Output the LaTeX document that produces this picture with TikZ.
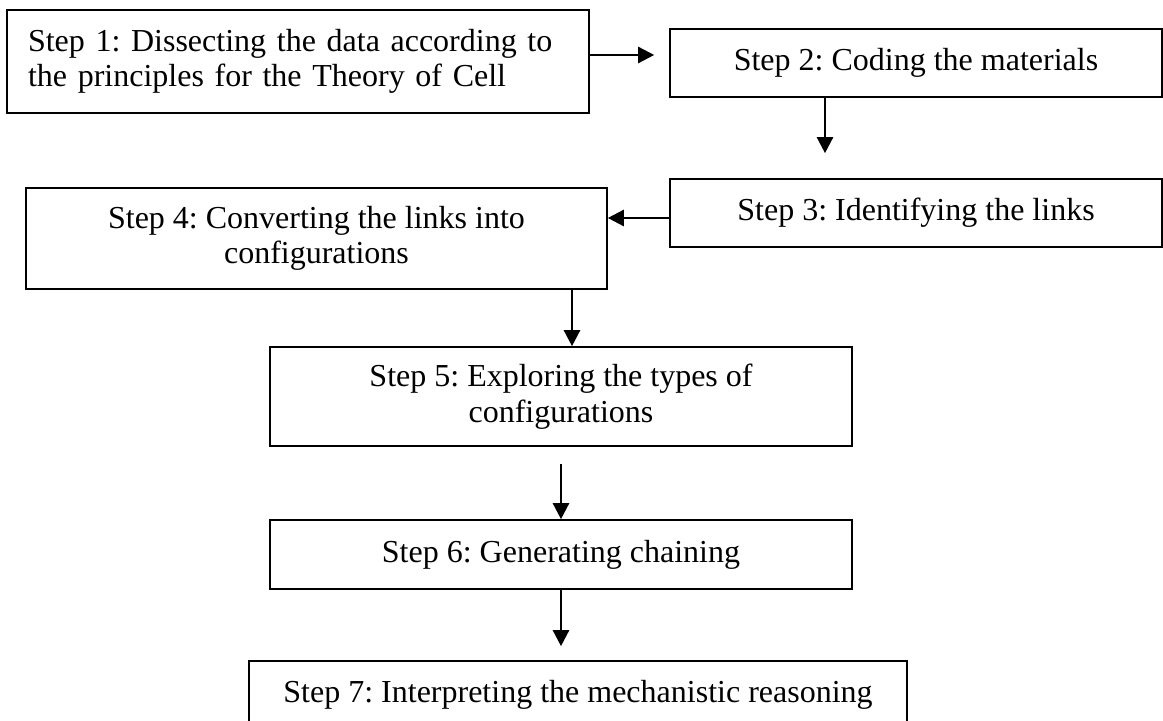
\documentclass[tikz,border=0pt]{standalone}
\usepackage{fontspec}
\setmainfont{Liberation Serif}
\usetikzlibrary{arrows.meta,calc}
\begin{document}
\frenchspacing
\begin{tikzpicture}[x=0.5pt,y=-0.5pt,
  box/.style={draw=black, line width=0.8pt, inner sep=0pt, align=center,
    font=\fontsize{16}{17.8}\selectfont},
  arr/.style={draw=black, line width=1.2pt, -{Triangle[length=8pt,width=8pt]}}]
\useasboundingbox (0,0) rectangle (1163,721);
\clip (0,0) rectangle (1163,721);
\fill[white] (0,0) rectangle (1163,721);

% process steps
\node[box, minimum width=291pt, minimum height=51.5pt, text width=270pt,
      inner xsep=10.5pt, align=left] (b1) at (298,61.5)
  {Step 1: Dissecting the data according to\\the principles for the Theory of Cell};
\node[box, minimum width=246pt, minimum height=34pt] (b2) at (916,63)
  {Step 2: Coding the materials};
\node[box, minimum width=246pt, minimum height=34pt] (b3) at (916,213)
  {Step 3: Identifying the links};
\node[box, minimum width=290.5pt, minimum height=50.5pt] (b4) at (316.5,238.5)
  {Step 4: Converting the links into\\configurations};
\node[box, minimum width=291pt, minimum height=49.5pt] (b5) at (561,396.5)
  {Step 5: Exploring the types of\\configurations};
\node[box, minimum width=291pt, minimum height=34.5pt] (b6) at (561,554.5)
  {Step 6: Generating chaining};
\node[box, minimum width=329pt, minimum height=34pt] (b7) at (578,695)
  {Step 7: Interpreting the mechanistic reasoning};

% connectors
\coordinate (a12) at ([yshift=3.25pt]b1.east);
\draw[arr, shorten >=7.5pt] (a12) -- (a12 -| b2.west);

\coordinate (a23) at ($(b2.south)+(-91,0)$);
\draw[arr, shorten >=12.5pt] (a23) -- (a23 |- b3.north);

\coordinate (a34) at ($(b3.west)+(0,5)$);
\draw[arr] (a34) -- (a34 -| b4.east);

\coordinate (a45) at ($(b5.north)+(11,0)$);
\draw[arr] (a45 |- b4.south) -- (a45);

\draw[arr, shorten <=8.5pt] (b5.south) -- (b6.north);

\draw[arr, shorten >=7pt] (b6.south) -- (b6.south |- b7.north);
\end{tikzpicture}
\end{document}
